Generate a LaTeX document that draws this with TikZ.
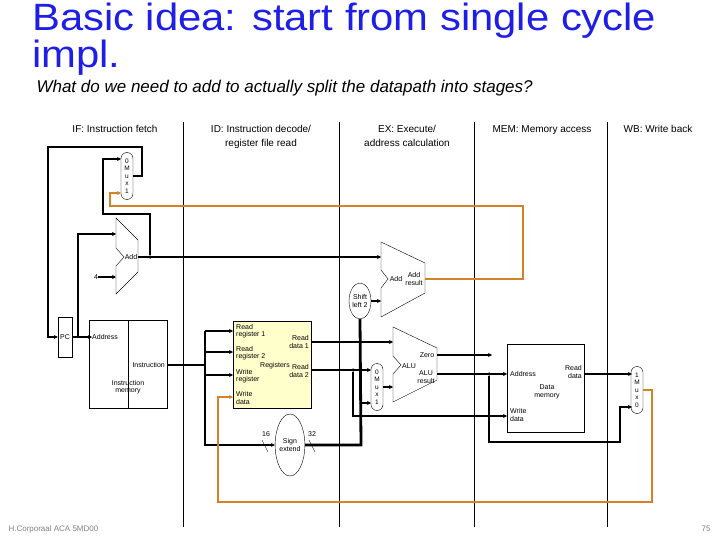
\documentclass[tikz,border=0pt]{standalone}
\usepackage{fontspec}
\setmainfont{Liberation Sans}
\usetikzlibrary{calc,arrows.meta,shapes.geometric}
\definecolor{titleblue}{RGB}{30,30,230}
\definecolor{wborange}{RGB}{214,128,40}
\definecolor{regyellow}{RGB}{255,255,204}
\tikzset{
  wire/.style={line width=1.2pt},
  bus/.style={line width=2.8pt},
  back/.style={line width=2.8pt,wborange},
  tip/.style={-{Stealth[length=4pt,width=4pt]}},
  lbl/.style={font=\fontsize{7}{7.5}\selectfont,align=left,inner sep=0pt},
  muxbox/.style={draw,rounded corners=6pt,minimum width=12pt,minimum height=47pt,inner sep=0pt,
    font=\fontsize{6.5}{7.5}\selectfont,align=center},
  oval/.style={draw,ellipse,inner sep=0pt,font=\fontsize{7}{8}\selectfont,align=center},
  stage/.style={line width=0.6pt},
  dot/.style={circle,fill,inner sep=0pt,minimum size=3.5pt}
}
\begin{document}
\begin{tikzpicture}[x=1pt,y=-1pt]
\useasboundingbox (0,0) rectangle (720,540);
% title
\node[anchor=north west,inner sep=0pt,titleblue,font=\fontsize{38}{32}\selectfont,align=left] (title) at (32,3)
  {\scalebox{1.1}[1]{Basic idea: start from single cycle}\\\scalebox{1.1}[1]{impl.}};
\node[anchor=base west,font=\fontsize{17}{20}\selectfont\itshape] (sub) at (33,93)
  {What do we need to add to actually split the datapath into stages?};
% stage headers
\foreach \x/\t in {115/{IF: Instruction fetch},261/{ID: Instruction decode/\\register file read},
  407/{EX: Execute/\\address calculation},542/{MEM: Memory access},658/{WB: Write back}}
  \node[anchor=north,font=\fontsize{10}{14}\selectfont,align=center] at (\x,122) {\t};
\foreach \x in {183,339,474,607}
  \draw[stage] (\x,122) -- (\x,527);
% blocks
\node[muxbox] (muxpc) at (127,176) {0\\M\\u\\x\\1};
\node[draw,minimum width=14pt,minimum height=40pt,inner sep=0pt,lbl] (pc) at (65,337) {PC};
\draw (89,320) rectangle (167,408) (128,320) -- (128,408);
\node[lbl,anchor=west] (imaddr) at (92,337) {Address};
\node[lbl,anchor=east] (iminst) at (165,365) {Instruction};
\node[lbl,align=center] (imname) at (128,387) {Instruction\\memory};
\node[draw,fill=regyellow,minimum width=78pt,minimum height=87pt,inner sep=0pt] (regs) at (272,364.5) {};
\node[lbl,anchor=west] at (236,331) {Read\\register 1};
\node[lbl,anchor=west] at (236,353) {Read\\register 2};
\node[lbl,anchor=west] at (236,376) {Write\\register};
\node[lbl,anchor=west] at (236,398) {Write\\data};
\node[lbl] at (275,366) {Registers};
\node[lbl,anchor=east,align=right] at (309,342) {Read\\data 1};
\node[lbl,anchor=east,align=right] at (309,371) {Read\\data 2};
\node[oval,minimum width=24pt,minimum height=62pt] (sext) at (290,445) {Sign\\extend};
\node[lbl] at (266,434) {16};
\node[lbl] at (312,434) {32};
\draw (262,440) -- (268,452) (309,440) -- (315,452);
\node[oval,minimum width=22pt,minimum height=36pt] (shl) at (360,301) {Shift\\left 2};
\node[muxbox] (muxalu) at (377,387) {0\\M\\u\\x\\1};
\node[draw,minimum width=77pt,minimum height=88pt,inner sep=0pt] (dmem) at (545.5,388) {};
\node[lbl,anchor=west] at (510,374) {Address};
\node[lbl,anchor=east,align=right] at (582,372) {Read\\data};
\node[lbl,align=center] at (547,392) {Data\\memory};
\node[lbl,anchor=west] at (510,415) {Write\\data};
\node[muxbox] (muxwb) at (637,390) {1\\M\\u\\x\\0};
% adders and ALU
\draw (116,218) -- (138,240) -- (138,272) -- (116,294) -- (116,266) -- (124,257) -- (116,248) -- cycle;
\node[lbl] (addpc) at (131,257) {Add};
\draw (381,242) -- (425,263) -- (425,293) -- (381,317) -- (381,288) -- (388,279) -- (381,270) -- cycle;
\node[lbl] (addbr) at (396,279) {Add};
\node[lbl,align=center] at (414,279) {Add\\result};
\draw (393,327) -- (437,348) -- (437,380) -- (393,402) -- (393,374) -- (401,365) -- (393,356) -- cycle;
\node[lbl] (alu) at (409,366) {ALU};
\node[lbl] at (427,355) {Zero};
\node[lbl,align=center] at (426,377) {ALU\\result};
% named ports
\coordinate (addpcA) at (116,234);
\coordinate (addpcB) at (116,277);
\coordinate (addpcO) at (138,257);
\coordinate (addbrA) at (381,257);
\coordinate (addbrO) at (425,279);
\coordinate (aluA) at (393,342);
\coordinate (aluB) at (393,387);
\coordinate (aluZ) at (437,355);
\coordinate (aluR) at (437,374);
\node[lbl] (four) at (96,277) {4};
% IF wires
\draw[bus,tip] (muxpc.east) -- (142,176) -- (142,147) -- (48,147) |- (pc.west);
\draw[bus,tip] (pc.east) -- (imaddr.west);
\draw[bus,tip] (78,337) |- (addpcA);
\draw[wire,tip] (four.east) -- (addpcB);
\draw[wire,tip] (addpcO) -- (addbrA);
\node[dot] (pcj) at (150,257) {};
\draw[bus,tip] (pcj) |- (103,214) |- (121,159);
% ID wires
\draw[bus] (167,365) -- (205,365);
\draw[bus,tip] (205,331) -- (233,331);
\draw[bus,tip] (205,352) -- (233,352);
\draw[bus,tip] (205,375) -- (233,375);
\draw[bus,tip] (205,331) |- (sext.west);
\draw[bus] (sext.east) -- (361,445) -- (shl.south);
\draw[bus,tip] (361,403) -- (371,403);
\node[dot] at (361,403) {};
\draw[bus,tip] (shl.east) -- (381,301);
\draw[wire,tip] (311,342) -- (aluA);
\draw[wire,tip] (311,370) -- (371,370);
\node[dot] (rd2j) at (353,370) {};
\draw[wire,tip] (rd2j) |- (507,416);
% EX / MEM / WB wires
\draw[wire,tip] (muxalu.east) -- (aluB);
\draw[wire,tip] (aluZ) -- (492,355);
\draw[wire,tip] (aluR) -- (507,374);
\node[dot] (arj) at (489,374) {};
\draw[bus,tip] (arj) |- (620,442) |- (632,407);
\draw[wire,tip] (584,374) -- (632,374);
% write back paths
\draw[back,tip] (addbrO) -- (523,279) |- (110,206) |- (121,193);
\draw[back,tip] (muxwb.east) -- (652,390) |- (218,502) |- (233,397);
% footer
\node[anchor=base west,gray,font=\fontsize{8}{9}\selectfont] at (5,531) {H.Corporaal ACA 5MD00};
\node[anchor=base east,gray,font=\fontsize{8}{9}\selectfont] at (714,531) {75};
\end{tikzpicture}
\end{document}
